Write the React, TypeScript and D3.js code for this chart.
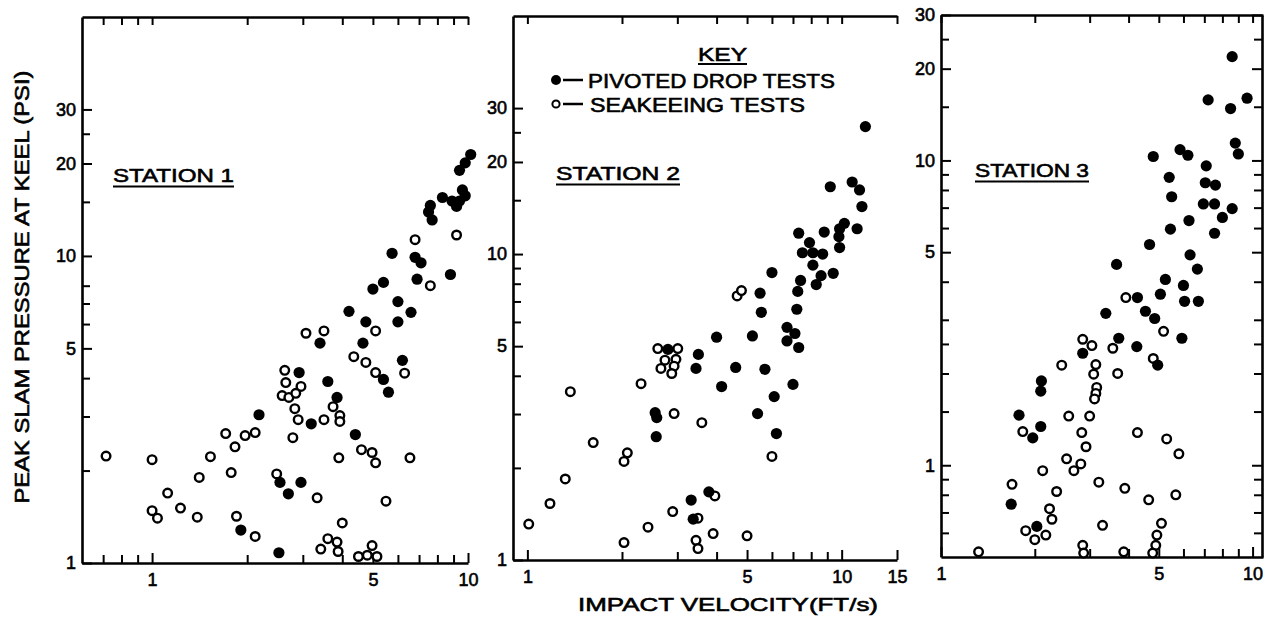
import React, { useEffect, useRef } from 'react';
import * as d3 from 'd3';

type P = [number, number];

// ---- data (impact velocity ft/s, peak pressure psi) ----
const S1_DROP: P[] = [[10.2,21.4],[9.8,20.1],[9.4,19.0],[9.6,16.4],[9.8,15.7],[9.4,15.1],[9.2,14.5],[8.9,15.1],[8.3,15.5],[7.6,14.6],[7.5,13.9],[7.7,13.1],[5.75,10.2],[6.8,9.9],[7.1,9.5],[6.9,8.4],[8.8,8.7],[5.0,7.8],[5.4,8.2],[6.0,7.1],[6.6,6.55],[4.2,6.6],[4.75,6.1],[6.0,6.1],[4.65,5.2],[3.4,5.2],[6.2,4.57],[5.4,3.96],[5.6,3.6],[3.6,3.9],[2.92,4.17],[3.85,3.46],[2.18,3.04],[3.19,2.84],[4.4,2.62],[2.54,1.83],[2.96,1.83],[2.7,1.68],[1.91,1.28],[2.52,1.08]];
const S1_SEA: P[] = [[6.8,11.3],[9.2,11.7],[7.6,8.0],[3.07,5.6],[3.5,5.7],[5.1,5.7],[4.35,4.7],[4.75,4.5],[5.1,4.17],[6.3,4.15],[2.63,4.24],[2.65,3.87],[2.96,3.76],[2.58,3.51],[2.71,3.46],[2.85,3.57],[2.83,3.18],[2.9,2.93],[2.79,2.56],[3.5,2.93],[3.74,3.23],[3.93,3.02],[3.93,2.89],[3.9,2.2],[4.6,2.34],[4.97,2.29],[5.1,2.12],[6.55,2.2],[0.715,2.23],[1.0,2.17],[1.53,2.22],[1.41,1.9],[1.71,2.64],[1.83,2.39],[1.97,2.6],[2.12,2.66],[1.78,1.97],[1.12,1.69],[1.23,1.51],[1.0,1.48],[1.04,1.40],[1.39,1.41],[1.85,1.42],[2.12,1.22],[2.48,1.95],[3.33,1.63],[4.0,1.35],[5.5,1.59],[3.42,1.11],[3.6,1.2],[3.85,1.17],[3.88,1.09],[4.5,1.05],[4.8,1.06],[4.97,1.14],[5.15,1.05]];
const S2_DROP: P[] = [[11.9,26.1],[9.2,16.6],[10.8,17.2],[11.4,16.2],[11.6,14.3],[11.2,12.1],[10.2,12.6],[9.85,12.1],[9.8,11.4],[9.85,10.5],[8.8,11.8],[7.3,11.7],[7.9,10.9],[7.5,10.1],[8.1,10.1],[8.7,10.0],[8.1,9.2],[9.4,8.65],[8.6,8.5],[8.3,7.95],[7.4,8.2],[7.25,7.55],[6.0,8.7],[5.5,7.45],[5.55,6.45],[7.2,6.6],[4.0,5.35],[5.2,5.4],[6.7,5.76],[7.1,5.5],[6.7,5.2],[7.3,4.95],[3.5,4.7],[3.44,4.23],[4.6,4.26],[5.7,4.2],[4.15,3.69],[7.0,3.75],[6.1,3.42],[5.4,3.01],[6.2,2.59],[2.55,3.03],[2.58,2.92],[2.57,2.53],[2.8,4.88],[3.32,1.57],[3.78,1.67],[3.37,1.36]];
const S2_SEA: P[] = [[4.65,7.3],[4.8,7.6],[2.6,4.91],[3.01,4.91],[2.74,4.5],[2.97,4.53],[2.66,4.23],[2.93,4.3],[2.88,4.07],[2.3,3.77],[1.37,3.55],[2.93,3.01],[3.59,2.81],[1.62,2.42],[2.08,2.24],[2.03,2.1],[1.32,1.84],[1.18,1.53],[1.01,1.31],[6.0,2.18],[2.9,1.44],[2.42,1.28],[2.03,1.14],[3.44,1.16],[3.49,1.09],[3.9,1.22],[5.0,1.2],[3.95,1.62],[3.49,1.37]];
const S3_DROP: P[] = [[8.6,21.9],[7.2,15.8],[8.5,14.8],[9.6,16.0],[8.8,11.4],[9.0,10.5],[5.85,10.85],[6.2,10.4],[4.8,10.3],[7.1,9.6],[5.4,8.8],[7.05,8.45],[7.6,8.3],[5.5,7.6],[6.95,7.2],[7.55,7.2],[8.6,6.95],[8.0,6.5],[6.25,6.35],[5.45,5.95],[7.55,5.77],[4.67,5.3],[6.3,4.9],[3.66,4.56],[6.65,4.4],[5.25,4.07],[6.0,3.89],[5.06,3.64],[4.27,3.55],[6.05,3.45],[6.7,3.45],[3.38,3.15],[4.53,3.2],[4.85,3.03],[5.93,2.61],[3.72,2.61],[4.25,2.45],[2.85,2.33],[4.96,2.13],[2.1,1.89],[2.09,1.75],[1.78,1.46],[2.09,1.34],[1.97,1.23],[1.68,0.745],[2.03,0.63]];
const S3_SEA: P[] = [[3.92,3.55],[2.85,2.59],[3.05,2.47],[3.56,2.42],[5.18,2.75],[4.8,2.24],[2.44,2.13],[3.14,2.14],[3.09,1.99],[3.69,2.0],[3.16,1.8],[3.14,1.72],[3.11,1.65],[2.57,1.45],[3.0,1.45],[1.83,1.29],[2.83,1.28],[4.27,1.28],[2.92,1.15],[5.3,1.22],[5.8,1.09],[2.53,1.05],[2.81,1.01],[2.67,0.96],[2.12,0.96],[1.69,0.866],[3.21,0.88],[3.89,0.84],[2.35,0.82],[5.67,0.80],[4.64,0.77],[2.23,0.72],[2.27,0.665],[1.87,0.61],[2.0,0.57],[2.17,0.59],[3.3,0.635],[5.1,0.645],[4.93,0.59],[4.89,0.546],[4.78,0.515],[2.85,0.546],[2.87,0.515],[3.86,0.52],[1.32,0.52]];

const X_TICKS_1 = [0.7, 0.8, 0.9, 1, 2, 3, 4, 5, 6, 7, 8, 9, 10];
const X_LABELS_1 = [1, 5, 10];
const Y_TICKS_1 = [1, 2, 3, 4, 5, 6, 7, 8, 10, 15, 20, 25, 30];
const X_TICKS_2 = [1, 2, 3, 4, 5, 6, 7, 8, 9, 10, 15];
const X_LABELS_2 = [1, 5, 10, 15];
const Y_TICKS_2 = [1, 2, 3, 4, 5, 6, 7, 8, 9, 10, 15, 20, 25, 30];
const X_TICKS_3 = [1, 2, 3, 4, 5, 6, 7, 8, 9, 10];
const X_LABELS_3 = [1, 5, 10];
const Y_TICKS_3 = [0.6, 0.7, 0.8, 0.9, 1, 1.5, 2, 2.5, 3, 4, 5, 6, 7, 8, 9, 10, 15, 20, 25, 30];
const Y_LABELS = [1, 5, 10, 20, 30];
const STATIONS = ['STATION 1', 'STATION 2', 'STATION 3'];
const KEY_LABELS = ['PIVOTED DROP TESTS', 'SEAKEEING TESTS'];

const FONT = '"Liberation Sans", Arial, sans-serif';

const LAYOUT = [
  { xd: [0.6, 10], xr: [82, 468], yd: [1, 60], yr: [563, 17], right: false, station: { x: 113, w: 121, y: 182 } },
  { xd: [0.9, 15], xr: [513, 897], yd: [1, 60], yr: [560, 16], right: false, station: { x: 556, w: 124, y: 180 } },
  { xd: [1, 10.8], xr: [941, 1263], yd: [0.5, 30], yr: [557, 15], right: true, station: { x: 975, w: 114, y: 177 } },
];
const SERIES = [
  { drop: S1_DROP, sea: S1_SEA, xTicks: X_TICKS_1, xLabels: X_LABELS_1, yTicks: Y_TICKS_1 },
  { drop: S2_DROP, sea: S2_SEA, xTicks: X_TICKS_2, xLabels: X_LABELS_2, yTicks: Y_TICKS_2 },
  { drop: S3_DROP, sea: S3_SEA, xTicks: X_TICKS_3, xLabels: X_LABELS_3, yTicks: Y_TICKS_3 },
];

const scales = LAYOUT.map((L) => ({
  x: d3.scaleLog().domain(L.xd).range(L.xr),
  y: d3.scaleLog().domain(L.yd).range(L.yr),
}));

function styleAxis(sel: any, labels: number[], vertical: boolean, sign: number) {
  sel.select('.domain').attr('stroke', '#000').attr('stroke-width', 2.6);
  sel.selectAll('.tick line')
    .attr('stroke', '#000')
    .attr('stroke-width', 2)
    .attr(vertical ? 'x2' : 'y2', (d: number) => sign * (labels.includes(d) ? 10 : 8));
  sel.selectAll('.tick text')
    .attr('font-family', FONT)
    .attr('font-size', 18)
    .attr('fill', '#000')
    .attr('stroke', '#000')
    .attr('stroke-width', 0.6);
}

function Axes() {
  const ref = useRef<SVGGElement>(null);
  useEffect(() => {
    if (!ref.current) return;
    const root = d3.select(ref.current);
    root.selectAll('*').remove();
    LAYOUT.forEach((L, i) => {
      const S = SERIES[i];
      const { x, y } = scales[i];
      const yb = L.yr[0];
      const yt = L.yr[1];
      const x0 = L.xr[0];
      const xR = L.xr[1];
      const fmtX = (v: any) => (S.xLabels.includes(v) ? String(v) : '');
      const fmtY = (v: any) => (Y_LABELS.includes(v) ? String(v) : '');

      const bottom = root.append('g').attr('transform', `translate(0,${yb})`)
        .call(d3.axisBottom(x).tickValues(S.xTicks).tickSizeInner(-8).tickSizeOuter(0).tickPadding(10).tickFormat(fmtX));
      styleAxis(bottom, S.xLabels, false, -1);

      const top = root.append('g').attr('transform', `translate(0,${yt})`)
        .call(d3.axisTop(x).tickValues(S.xTicks).tickSizeInner(-8).tickSizeOuter(0).tickFormat(() => ''));
      styleAxis(top, [], false, 1);
      top.selectAll('.tick text').remove();

      const left = root.append('g').attr('transform', `translate(${x0},0)`)
        .call(d3.axisLeft(y).tickValues(S.yTicks).tickSizeInner(-8).tickSizeOuter(0).tickPadding(6).tickFormat(fmtY));
      styleAxis(left, Y_LABELS, true, 1);
      left.selectAll('.tick text').filter((d: any) => !Y_LABELS.includes(d)).remove();
      bottom.selectAll('.tick text').filter((d: any) => !S.xLabels.includes(d)).remove();

      if (L.right) {
        const right = root.append('g').attr('transform', `translate(${xR - 1},0)`)
          .call(d3.axisRight(y).tickValues(S.yTicks).tickSizeInner(-8).tickSizeOuter(0).tickFormat(() => ''));
        styleAxis(right, Y_LABELS, true, -1);
        right.selectAll('.tick text').remove();
      }
    });
  }, []);
  return <g ref={ref} />;
}

function Panel({ i }: { i: number }) {
  const L = LAYOUT[i];
  const S = SERIES[i];
  const { x, y } = scales[i];
  return (
    <g>
      <text x={L.station.x} y={L.station.y} fontFamily={FONT} fontSize={19}
        textLength={L.station.w} lengthAdjust="spacingAndGlyphs" stroke="#000" strokeWidth={0.6}>{STATIONS[i]}</text>
      <path d={`M${L.station.x},${L.station.y + 4.5}h${L.station.w}`} stroke="#000" strokeWidth={2} />
      {S.sea.map((q, k) => (
        <circle key={'s' + k} cx={x(q[0])} cy={y(q[1])} r={4.3} fill="#fff" stroke="#000" strokeWidth={2.4} />
      ))}
      {S.drop.map((q, k) => (
        <circle key={'d' + k} cx={x(q[0])} cy={y(q[1])} r={5.6} fill="#000" />
      ))}
    </g>
  );
}

export default function App() {
  return (
    <svg width={1266} height={617} style={{ position: 'absolute', left: 0, top: 0, background: '#fff' }}>
      <Axes />
      {[0, 1, 2].map((i) => <Panel key={i} i={i} />)}
      <text transform="translate(29,287) rotate(-90)" textAnchor="middle" fontFamily={FONT} fontSize={20}
        textLength={433} lengthAdjust="spacingAndGlyphs" stroke="#000" strokeWidth={0.6}>PEAK SLAM PRESSURE AT KEEL (PSI)</text>
      <text x={578} y={611} fontFamily={FONT} fontSize={19} textLength={300} lengthAdjust="spacingAndGlyphs"
        stroke="#000" strokeWidth={0.6}>IMPACT VELOCITY(FT/s)</text>
      <text x={698} y={61} fontFamily={FONT} fontSize={19} textLength={49} lengthAdjust="spacingAndGlyphs"
        stroke="#000" strokeWidth={0.6}>KEY</text>
      <path d="M698,64H747" stroke="#000" strokeWidth={2} />
      <circle cx={556} cy={80} r={5} fill="#000" />
      <path d="M563,80H583M563,104H583" stroke="#000" strokeWidth={2.5} />
      <text x={588} y={88} fontFamily={FONT} fontSize={20} textLength={247} lengthAdjust="spacingAndGlyphs"
        stroke="#000" strokeWidth={0.6}>{KEY_LABELS[0]}</text>
      <circle cx={556} cy={104} r={3.6} fill="#fff" stroke="#000" strokeWidth={2} />
      <text x={590} y={112} fontFamily={FONT} fontSize={20} textLength={215} lengthAdjust="spacingAndGlyphs"
        stroke="#000" strokeWidth={0.6}>{KEY_LABELS[1]}</text>
    </svg>
  );
}
